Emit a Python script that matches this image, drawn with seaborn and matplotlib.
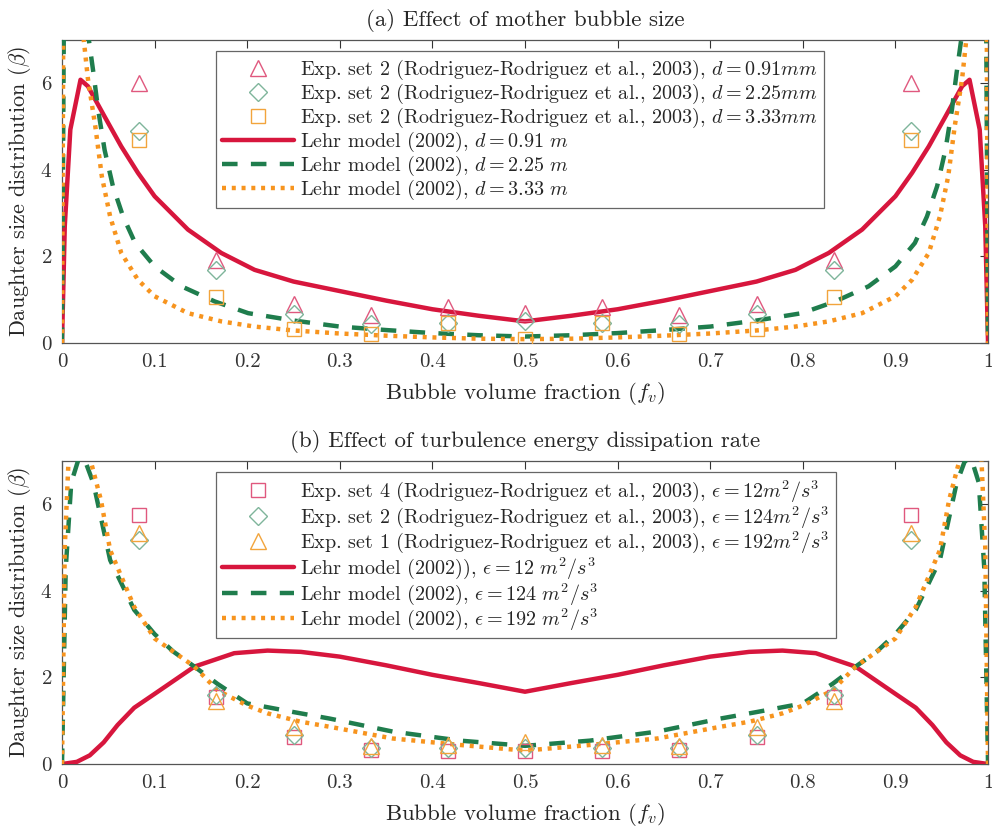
import matplotlib
matplotlib.use("Agg")
import matplotlib.pyplot as plt
import seaborn as sns
from matplotlib.ticker import FormatStrFormatter

# experimental points sit at 1/12 spacing
exp_x = [0.0833, 0.1667, 0.25, 0.3333, 0.4167, 0.5, 0.5833, 0.6667, 0.75, 0.8333, 0.9167]

# (a) mother bubble size
a_tri = [6.0, 1.92, 0.9, 0.65, 0.84, 0.69, 0.84, 0.65, 0.9, 1.92, 6.0]
a_dia = [4.9, 1.68, 0.68, 0.45, 0.47, 0.52, 0.47, 0.45, 0.68, 1.68, 4.9]
a_sq = [4.7, 1.06, 0.33, 0.22, 0.47, 0.09, 0.47, 0.22, 0.33, 1.06, 4.7]

a_red_x = [0, 0.003, 0.009, 0.02, 0.028, 0.046, 0.064, 0.082, 0.1, 0.136, 0.172, 0.208, 0.25, 0.3, 0.35,
           0.4, 0.45, 0.5, 0.55, 0.6, 0.65, 0.7, 0.75, 0.792, 0.828, 0.864, 0.9, 0.918, 0.936, 0.954,
           0.972, 0.98, 0.991, 0.997, 1]
a_red_y = [0, 2.7, 4.93, 6.08, 5.93, 5.23, 4.54, 3.93, 3.39, 2.62, 2.08, 1.69, 1.42, 1.2, 0.98,
           0.78, 0.63, 0.5, 0.63, 0.78, 0.98, 1.2, 1.42, 1.69, 2.08, 2.62, 3.39, 3.93, 4.54, 5.23,
           5.93, 6.08, 4.93, 2.7, 0]

a_grn_x = [0, 0.002, 0.01, 0.02, 0.029, 0.034, 0.039, 0.046, 0.055, 0.066, 0.079, 0.1, 0.129, 0.165,
           0.201, 0.25, 0.3, 0.35, 0.4, 0.45, 0.5, 0.55, 0.6, 0.65, 0.7, 0.75, 0.799, 0.835, 0.871,
           0.9, 0.921, 0.934, 0.945, 0.954, 0.961, 0.966, 0.971, 0.98, 0.99, 0.998, 1]
a_grn_y = [0, 7.5, 11, 9.5, 7.0, 6.23, 5.39, 4.46, 3.62, 2.92, 2.31, 1.77, 1.31, 0.96,
           0.69, 0.52, 0.38, 0.3, 0.23, 0.18, 0.15, 0.18, 0.23, 0.3, 0.38, 0.52, 0.69, 0.96, 1.31,
           1.77, 2.31, 2.92, 3.62, 4.46, 5.39, 6.23, 7.0, 9.5, 11, 7.5, 0]

a_org_x = [0, 0.0015, 0.008, 0.018, 0.0235, 0.028, 0.036, 0.043, 0.052, 0.064, 0.082, 0.1, 0.136, 0.172,
           0.208, 0.25, 0.3, 0.35, 0.4, 0.45, 0.5, 0.55, 0.6, 0.65, 0.7, 0.75, 0.792, 0.828, 0.864,
           0.9, 0.918, 0.936, 0.948, 0.957, 0.964, 0.972, 0.9765, 0.982, 0.992, 0.9985, 1]
a_org_y = [0, 8, 12, 9, 7.0, 6.1, 5.0, 3.85, 2.92, 2.08, 1.46, 1.08, 0.69, 0.5,
           0.38, 0.29, 0.22, 0.17, 0.13, 0.1, 0.09, 0.1, 0.13, 0.17, 0.22, 0.29, 0.38, 0.5, 0.69,
           1.08, 1.46, 2.08, 2.92, 3.85, 5.0, 6.1, 7.0, 9, 12, 8, 0]

# (b) dissipation rate
b_sq = [5.75, 1.55, 0.63, 0.33, 0.3, 0.3, 0.3, 0.33, 0.63, 1.55, 5.75]
b_dia = [5.17, 1.6, 0.67, 0.38, 0.38, 0.38, 0.38, 0.38, 0.67, 1.6, 5.17]
b_tri = [5.33, 1.45, 0.86, 0.42, 0.45, 0.5, 0.45, 0.42, 0.86, 1.45, 5.33]

b_red_x = [0, 0.016, 0.03, 0.045, 0.06, 0.078, 0.1, 0.143, 0.186, 0.222, 0.258, 0.3, 0.35, 0.4, 0.45,
           0.5, 0.55, 0.6, 0.65, 0.7, 0.742, 0.778, 0.814, 0.857, 0.9, 0.922, 0.94, 0.955, 0.97,
           0.984, 1]
b_red_y = [0, 0.05, 0.2, 0.5, 0.9, 1.3, 1.62, 2.25, 2.56, 2.62, 2.59, 2.48, 2.28, 2.06, 1.87,
           1.67, 1.87, 2.06, 2.28, 2.48, 2.59, 2.62, 2.56, 2.25, 1.62, 1.3, 0.9, 0.5, 0.2,
           0.05, 0]

b_grn_x = [0, 0.004, 0.01, 0.018, 0.025, 0.034, 0.052, 0.078, 0.1, 0.12, 0.143, 0.168, 0.2, 0.25,
           0.289, 0.357, 0.43, 0.5, 0.57, 0.643, 0.711, 0.75, 0.8, 0.832, 0.857, 0.88, 0.9, 0.922,
           0.948, 0.966, 0.975, 0.982, 0.99, 0.996, 1]
b_grn_y = [0, 4.5, 6.5, 7.05, 7.0, 6.48, 4.71, 3.56, 3.0, 2.6, 2.25, 1.85, 1.4, 1.2,
           1.05, 0.75, 0.54, 0.42, 0.54, 0.75, 1.05, 1.2, 1.4, 1.85, 2.25, 2.6, 3.0, 3.56,
           4.71, 6.48, 7.0, 7.05, 6.5, 4.5, 0]

b_org_x = [0, 0.003, 0.008, 0.02, 0.031, 0.042, 0.052, 0.078, 0.1, 0.143, 0.168, 0.2, 0.222, 0.257,
           0.289, 0.357, 0.43, 0.5, 0.57, 0.643, 0.711, 0.743, 0.778, 0.8, 0.832, 0.857, 0.9, 0.922,
           0.948, 0.958, 0.969, 0.98, 0.992, 0.997, 1]
b_org_y = [0, 5, 7.5, 8.5, 7.0, 6.1, 4.94, 3.63, 2.9, 2.25, 1.7, 1.35, 1.17, 0.98,
           0.86, 0.59, 0.44, 0.31, 0.44, 0.59, 0.86, 0.98, 1.17, 1.35, 1.7, 2.25, 2.9, 3.63,
           4.94, 6.1, 7.0, 8.5, 7.5, 5, 0]

xticks = [0, 0.1, 0.2, 0.3, 0.4, 0.5, 0.6, 0.7, 0.8, 0.9, 1]
yticks = [0, 2, 4, 6]

RED = "#d7163d"
GREEN = "#1f7d4d"
ORANGE = "#f7941e"
M_RED = "#e0587e"
M_GREEN = "#7fb59b"
M_ORANGE = "#f2a43c"

sns.set_theme(style="white")
plt.rcParams["font.family"] = ["cmr10", "DejaVu Serif"]
plt.rcParams["mathtext.fontset"] = "cm"
plt.rcParams["axes.formatter.use_mathtext"] = True
plt.rcParams["axes.unicode_minus"] = False

fig = plt.figure(figsize=(9.92, 8.32), dpi=100)
ax_a = fig.add_axes([0.0625, 0.5877, 0.9335, 0.3643])
ax_b = fig.add_axes([0.0625, 0.0817, 0.9335, 0.3643])


def add_markers(ax, ys, marker, color, size, label):
    sns.lineplot(x=exp_x, y=ys, ax=ax, marker=marker, linestyle="none", markersize=size,
                 markerfacecolor="none", markeredgecolor=color, markeredgewidth=1.0,
                 color=color, label=label, estimator=None, sort=False, zorder=4)


def add_curve(ax, xs, ys, color, ls, label):
    sns.lineplot(x=xs, y=ys, ax=ax, color=color, linestyle=ls, linewidth=3.2,
                 label=label, estimator=None, sort=False, zorder=3)


def style_axes(ax, title):
    ax.set_xlim(0, 1)
    ax.set_ylim(0, 7)
    ax.set_xticks(xticks)
    ax.set_yticks(yticks)
    ax.xaxis.set_major_formatter(FormatStrFormatter("%g"))
    ax.tick_params(direction="in", top=True, right=True, length=6, width=0.8,
                   labelsize=15, colors="#333333", pad=7)
    for sp in ax.spines.values():
        sp.set_color("#555555")
        sp.set_linewidth(0.9)
    ax.set_title(title, fontsize=16.5, pad=10)
    ax.set_xlabel(r"Bubble volume fraction ($f_v$)", fontsize=16.5, labelpad=7)
    ax.set_ylabel(r"Daughter size distribution ($\beta$)", fontsize=16, labelpad=5)


dash = (0, (3.5, 3.0))
dots = (0, (0.9, 1.3))

# panel (a)
add_markers(ax_a, a_tri, "^", M_RED, 12,
            r"Exp. set 2 (Rodriguez-Rodriguez et al., 2003), $d = 0.91mm$")
add_markers(ax_a, a_dia, "D", M_GREEN, 9,
            r"Exp. set 2 (Rodriguez-Rodriguez et al., 2003), $d = 2.25mm$")
add_markers(ax_a, a_sq, "s", M_ORANGE, 9.5,
            r"Exp. set 2 (Rodriguez-Rodriguez et al., 2003), $d = 3.33mm$")
add_curve(ax_a, a_red_x, a_red_y, RED, "-", r"Lehr model (2002), $d = 0.91\ m$")
add_curve(ax_a, a_grn_x, a_grn_y, GREEN, dash, r"Lehr model (2002), $d = 2.25\ m$")
add_curve(ax_a, a_org_x, a_org_y, ORANGE, dots, r"Lehr model (2002), $d = 3.33\ m$")
style_axes(ax_a, "(a) Effect of mother bubble size")

# panel (b)
add_markers(ax_b, b_sq, "s", M_RED, 9.5,
            r"Exp. set 4 (Rodriguez-Rodriguez et al., 2003), $\epsilon = 12m^2/s^3$")
add_markers(ax_b, b_dia, "D", M_GREEN, 9,
            r"Exp. set 2 (Rodriguez-Rodriguez et al., 2003), $\epsilon = 124m^2/s^3$")
add_markers(ax_b, b_tri, "^", M_ORANGE, 12,
            r"Exp. set 1 (Rodriguez-Rodriguez et al., 2003), $\epsilon = 192m^2/s^3$")
add_curve(ax_b, b_red_x, b_red_y, RED, "-", r"Lehr model (2002)), $\epsilon = 12\ m^2/s^3$")
add_curve(ax_b, b_grn_x, b_grn_y, GREEN, dash, r"Lehr model (2002), $\epsilon = 124\ m^2/s^3$")
add_curve(ax_b, b_org_x, b_org_y, ORANGE, dots, r"Lehr model (2002), $\epsilon = 192\ m^2/s^3$")
style_axes(ax_b, "(b) Effect of turbulence energy dissipation rate")

for ax in (ax_a, ax_b):
    handles, labels = ax.get_legend_handles_labels()
    leg = ax.legend(handles, labels, loc="upper left", bbox_to_anchor=(0.166, 0.962),
                    fontsize=14.5, frameon=True, fancybox=False, framealpha=1,
                    edgecolor="#666666", handlelength=3.6, handletextpad=0.3,
                    labelspacing=0.0, borderpad=0.3, borderaxespad=0)
    leg.get_frame().set_linewidth(0.9)
    leg.set_zorder(5)

fig.savefig("out.png", dpi=100)
